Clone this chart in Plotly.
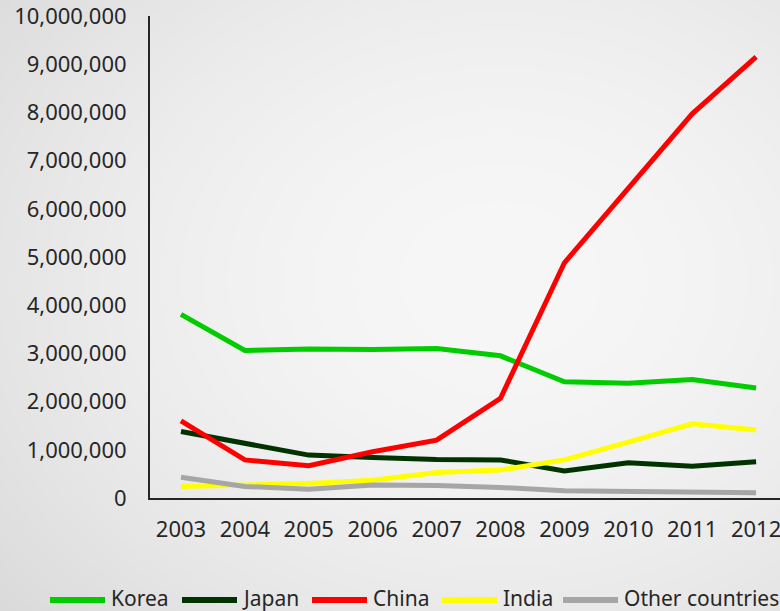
import base64
import struct
import zlib

import numpy as np
import plotly.graph_objects as go

# Annual figures per source country
years = ["2003", "2004", "2005", "2006", "2007", "2008", "2009", "2010", "2011", "2012"]
korea = [3810000, 3060000, 3090000, 3080000, 3100000, 2950000, 2410000, 2380000, 2460000, 2280000]
japan = [1380000, 1130000, 890000, 840000, 800000, 790000, 560000, 730000, 660000, 750000]
china = [1600000, 790000, 670000, 960000, 1200000, 2070000, 4880000, 6430000, 7970000, 9150000]
india = [240000, 270000, 300000, 370000, 530000, 580000, 790000, 1160000, 1540000, 1410000]
others = [430000, 240000, 180000, 270000, 260000, 220000, 150000, 140000, 130000, 110000]

series_names = ["Korea", "Japan", "China", "India", "Other countries"]
series_values = [korea, japan, china, india, others]
series_colors = ["#00cc00", "#003300", "#ff0000", "#ffff00", "#a6a6a6"]

y_ticks = list(range(0, 10000001, 1000000))
y_tick_text = [f"{v:,}" for v in y_ticks]

W, H = 780, 611
ML, MR, MT, MB = 150, 0, 16, 113
PW, PH = W - ML - MR, H - MT - MB
FONT = "Noto Sans"
TEXT_COLOR = "#262626"


def px_x(x):
    return (x - ML) / PW


def px_y(y):
    return (H - MB - y) / PH


def soft_background(w, h):
    """Light paper-like backdrop: bright centre fading to grey edges."""
    yy, xx = np.mgrid[0:h, 0:w].astype(float)
    d = np.sqrt(((xx - 500) / 560) ** 2 + ((yy - 280) / 440) ** 2)
    v = 247 - 22 * np.clip(d, 0, 1.25) ** 1.8
    v = np.clip(v, 0, 255).astype(np.uint8)
    raw = b"".join(b"\x00" + np.repeat(row[:, None], 3, axis=1).tobytes() for row in v)

    def chunk(tag, data):
        c = struct.pack(">I", len(data)) + tag + data
        return c + struct.pack(">I", zlib.crc32(tag + data) & 0xFFFFFFFF)

    png = b"\x89PNG\r\n\x1a\n"
    png += chunk(b"IHDR", struct.pack(">IIBBBBB", w, h, 8, 2, 0, 0, 0))
    png += chunk(b"IDAT", zlib.compress(raw, 9))
    png += chunk(b"IEND", b"")
    return "data:image/png;base64," + base64.b64encode(png).decode()


fig = go.Figure()
for name, vals, color in zip(series_names, series_values, series_colors):
    fig.add_trace(
        go.Scatter(
            x=years,
            y=vals,
            name=name,
            mode="lines",
            line=dict(color=color, width=5),
            showlegend=False,
        )
    )

# Legend drawn as line swatches with labels along the bottom
legend_items = [
    (50, 109), (182, 240), (312, 371), (442, 501), (563, 622),
]
legend_y = 598
for (x0, xt), name, color in zip(legend_items, series_names, series_colors):
    fig.add_shape(
        type="line", xref="paper", yref="paper",
        x0=px_x(x0), x1=px_x(x0 + 55), y0=px_y(legend_y + 2), y1=px_y(legend_y + 2),
        line=dict(color=color, width=6),
    )
    fig.add_annotation(
        xref="paper", yref="paper", x=px_x(xt), y=px_y(legend_y),
        text=name, showarrow=False, xanchor="left", yanchor="middle",
        font=dict(family=FONT, size=21, color=TEXT_COLOR),
    )

fig.add_layout_image(
    dict(
        source=soft_background(W, H),
        xref="paper", yref="paper",
        x=px_x(0), y=px_y(0), sizex=W / PW, sizey=H / PH,
        xanchor="left", yanchor="top", sizing="stretch", layer="below",
    )
)

fig.update_layout(
    width=W,
    height=H,
    margin=dict(l=ML, r=MR, t=MT, b=MB, autoexpand=False),
    paper_bgcolor="#efefef",
    plot_bgcolor="rgba(0,0,0,0)",
    font=dict(family=FONT, size=22, color=TEXT_COLOR),
    xaxis=dict(
        type="category",
        range=[-0.485, 9.374],
        showgrid=False,
        zeroline=False,
        showline=True,
        linecolor=TEXT_COLOR,
        linewidth=2,
        ticks="",
        ticklabelstandoff=11,
        ticklabeloverflow="allow",
        tickfont=dict(family=FONT, size=22, color=TEXT_COLOR),
        automargin=False,
    ),
    yaxis=dict(
        range=[0, 10000000],
        tickvals=y_ticks,
        ticktext=y_tick_text,
        showgrid=False,
        zeroline=False,
        showline=True,
        linecolor=TEXT_COLOR,
        linewidth=2,
        ticks="",
        ticklabelstandoff=17,
        ticklabeloverflow="allow",
        tickfont=dict(family=FONT, size=22, color=TEXT_COLOR),
        automargin=False,
    ),
)

fig.write_html("out.html")
